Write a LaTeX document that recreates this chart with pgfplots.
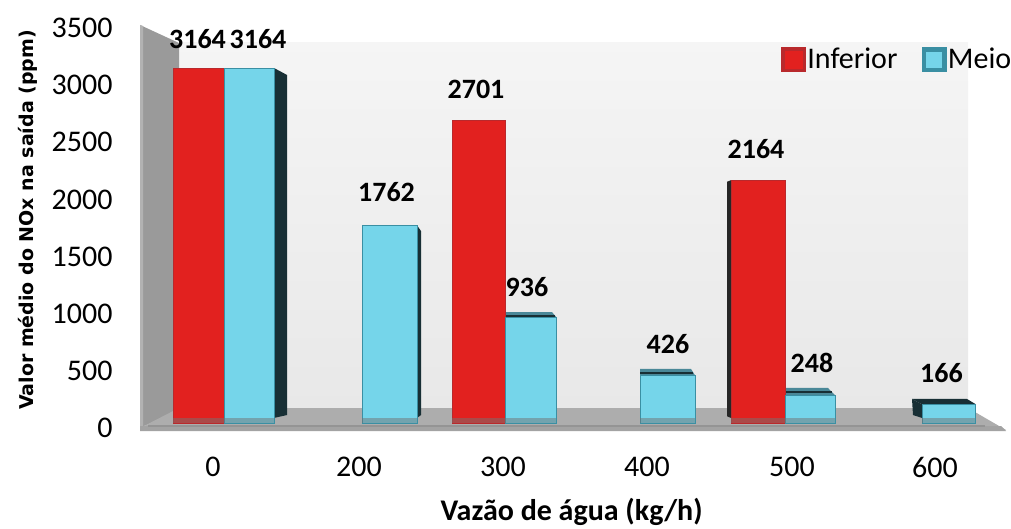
\documentclass[border=0pt]{standalone}
\usepackage{pgfplots}
\usepackage{fontspec}
\setmainfont{Carlito}
\newfontfamily\sidefont{DejaVu Sans}
\pgfplotsset{compat=1.18}
\definecolor{redbar}{HTML}{E2211F}
\definecolor{rededge}{HTML}{B9292C}
\definecolor{cyanbar}{HTML}{75D5EA}
\definecolor{cyanedge}{HTML}{3A8FA3}
\definecolor{darkside}{HTML}{182F35}
\definecolor{topface}{HTML}{4A8898}
\definecolor{wallside}{HTML}{9A9A9A}
\definecolor{floorgray}{HTML}{ADADAD}
\definecolor{bandgray}{HTML}{A3A3A3}
% Shared horizontal frame: x runs in picture units from the left wall to the floor tip
\pgfplotsset{
  frame3d/.style={
    scale only axis, width=865pt, xmin=140, xmax=1005, clip=false,
  },
  redb/.style={ybar, bar shift=0pt, fill=redbar, draw=rededge, line width=0.8pt, forget plot},
  cyanb/.style={ybar, bar shift=0pt, fill=cyanbar, draw=cyanedge, line width=1pt, forget plot},
  face/.style={fill=darkside, draw=none, mark=none, forget plot},
  topf/.style={fill=topface, draw=none, mark=none, forget plot},
  edgeline/.style={darkside, line width=2pt, mark=none, forget plot},
  toplabel/.style n args={2}{nodes near coords, every node near coord/.append style={
      font=\fontsize{28}{28}\selectfont\bfseries, black, xshift=#1, yshift=#2, anchor=center,
      /pgf/number format/1000 sep={}, /pgf/number format/assume math mode=true}},
}
\begin{document}
\begin{tikzpicture}[x=1pt,y=1pt]
\useasboundingbox (-140,-100) rectangle (871,428);
% Back wall, left wall and floor of the chart box
\fill[top color=black!4, bottom color=black!9] (39,385) rectangle (828,20);
\fill[wallside] (0,403) -- (39,385) -- (39,18) -- (2,1) -- (0,1) -- cycle;
\fill[black!30] (0,403) -- (3,402) -- (3,1) -- (0,1) -- cycle;
\fill[floorgray] (2,1) -- (39,20) -- (828,20) -- (866,-2) -- cycle;
\fill[bandgray] (0,2) -- (861,2) -- (866,-3) -- (0,-3) -- cycle;
\fill[black!42] (8,3) rectangle (845,1.5);
\begin{axis}[frame3d, height=400pt, ymin=0, ymax=3500,
  axis line style={draw=none}, tick style={draw=none},
  ytick={0,500,...,3500},
  xtick={213,359,503,647,792,935},
  xticklabels={0,200,300,400,500,600},
  tick label style={font=\fontsize{30}{30}\selectfont},
  /pgf/number format/assume math mode=true,
  /pgf/number format/1000 sep={},
  yticklabel style={xshift=-24pt, anchor=east},
  xticklabel style={yshift=-39pt, anchor=center},
  xlabel={Vazão de água (kg/h)},
  ylabel={Valor médio do NOx na saída (ppm)},
  xlabel style={font=\fontsize{30}{30}\selectfont\bfseries,
    at={(axis description cs:0.499,-0.2095)}, anchor=center},
  ylabel style={font=\fontsize{19}{19}\sidefont\bfseries,
    at={(axis description cs:-0.1295,0.52)}, anchor=center, rotate=0},
  legend style={at={(axis cs:781,3340)}, anchor=north west, draw=none, fill=none,
    font=\fontsize{30}{30}\selectfont, legend columns=2,
    /tikz/every even column/.append style={column sep=22pt},
    inner sep=0pt, outer sep=0pt},
  legend cell align=left,
]
\addlegendimage{legend image code/.code={
  \fill[rededge] (0pt,-12pt) rectangle (24pt,12pt);
  \fill[redbar] (3.5pt,-8.5pt) rectangle (20.5pt,8.5pt);}}
\addlegendentry{Inferior}
\addlegendimage{legend image code/.code={
  \fill[cyanedge] (0pt,-12pt) rectangle (24pt,12pt);
  \fill[cyanbar] (4.5pt,-7.5pt) rectangle (19.5pt,7.5pt);}}
\addlegendentry{Meio}
\end{axis}
% Bars stand on the front edge of the floor, a little above the zero tick
\begin{axis}[frame3d, at={(0pt,5pt)}, height=392.7pt, ymin=0, ymax=3500, axis lines=none]
% Side and top faces
\addplot[face] coordinates {(274,3164)(287,3102)(287,71)(274,45)} --cycle;
\addplot[face] coordinates {(417,1762)(421,1711)(421,71)(417,45)} --cycle;
\addplot[topf] coordinates {(505,936)(505,989)(552,989)(557,936)} --cycle;
\addplot[topf] coordinates {(640,426)(640,482)(691,482)(695,426)} --cycle;
\addplot[face, fill=black!85] coordinates {(727,2150)(731,2164)(731,45)(727,60)} --cycle;
\addplot[topf] coordinates {(785,248)(785,312)(828,312)(835,248)} --cycle;
\addplot[face] coordinates {(912,214)(967,214)(976,166)(922,166)} --cycle;
\addplot[face] coordinates {(912,214)(922,166)(922,45)(913,71)} --cycle;
\addplot[edgeline] coordinates {(505,955)(555,955)};
\addplot[edgeline] coordinates {(640,447)(693,447)};
\addplot[edgeline] coordinates {(785,275)(832,275)};
% Inferior
\addplot[redb, bar width=51pt, toplabel={-1pt}{29pt}] coordinates {(198.5,3164)};
\addplot[redb, bar width=53pt, toplabel={-2.5pt}{31pt}] coordinates {(478.5,2701)};
\addplot[redb, bar width=54pt, toplabel={-2pt}{31pt}] coordinates {(758,2164)};
% Meio
\addplot[cyanb, bar width=50pt, toplabel={9pt}{29pt}] coordinates {(249,3164)};
\addplot[cyanb, bar width=55pt, toplabel={-3pt}{33pt}] coordinates {(389.5,1762)};
\addplot[cyanb, bar width=51pt, toplabel={-3.5pt}{31pt}] coordinates {(530.5,936)};
\addplot[cyanb, bar width=55pt, toplabel={0.5pt}{31pt}] coordinates {(667.5,426)};
\addplot[cyanb, bar width=50pt, toplabel={2pt}{32pt}] coordinates {(810,248)};
\addplot[cyanb, bar width=53pt, toplabel={-7.5pt}{31pt}] coordinates {(949,166)};
% Floor sheen across the feet of the bars
\fill[black!55, opacity=0.5] (axis cs:173,0) rectangle (axis cs:274,45);
\fill[black!55, opacity=0.5] (axis cs:362,0) rectangle (axis cs:417,45);
\fill[black!55, opacity=0.5] (axis cs:452,0) rectangle (axis cs:556,45);
\fill[black!55, opacity=0.5] (axis cs:640,0) rectangle (axis cs:695,45);
\fill[black!55, opacity=0.5] (axis cs:731,0) rectangle (axis cs:835,45);
\fill[black!55, opacity=0.5] (axis cs:922,0) rectangle (axis cs:975,45);
\end{axis}
\end{tikzpicture}
\end{document}
